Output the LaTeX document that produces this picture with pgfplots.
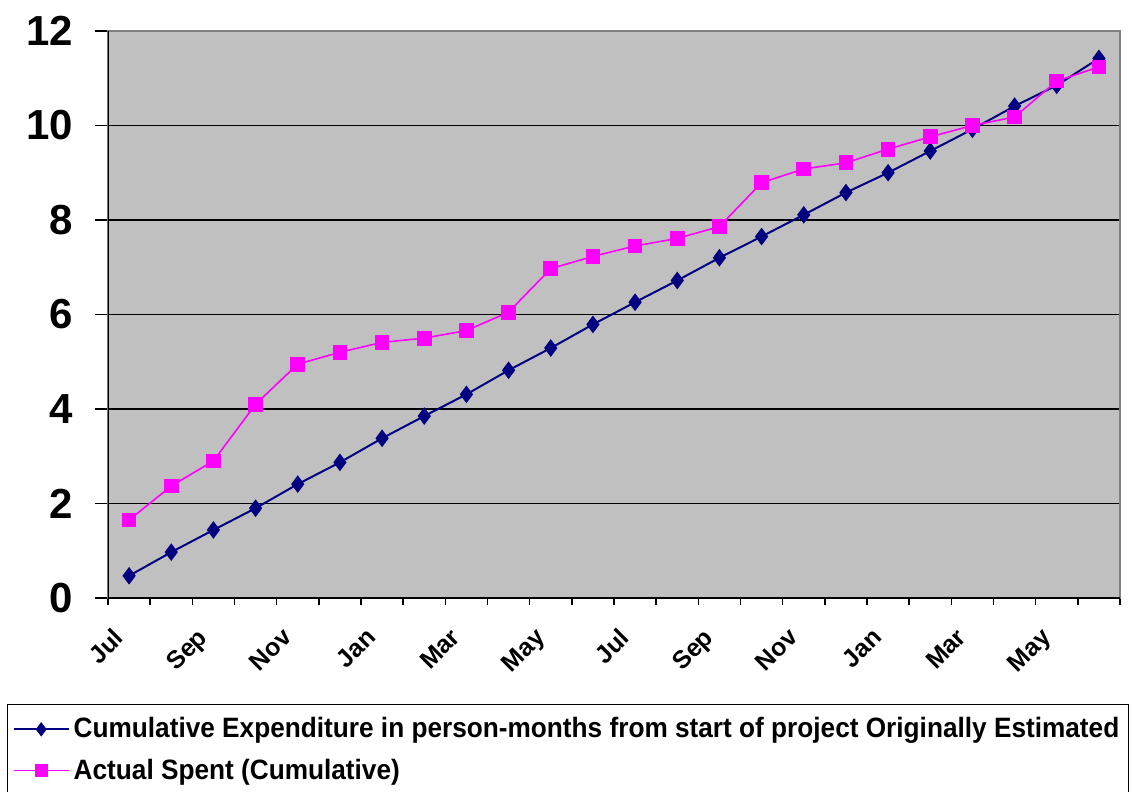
\documentclass[border=0pt]{standalone}
\usepackage{fontspec}
\setmainfont{Liberation Sans}
\newfontfamily\legfont[FakeStretch=0.936]{Liberation Sans}
\usepackage{pgfplots}
\pgfplotsset{compat=1.18}
\definecolor{plotbg}{RGB}{192,192,192}
\definecolor{navyc}{RGB}{0,0,128}
\definecolor{magc}{RGB}{255,0,255}
\definecolor{bordergray}{RGB}{128,128,128}
\begin{document}
\begin{tikzpicture}
\begin{axis}[
  scale only axis, width=506pt, height=283.5pt,
  at={(0,0)}, anchor=south west,
  xmin=0.5, xmax=24.5, ymin=0, ymax=12,
  axis background/.style={fill=plotbg},
  axis line style={draw=bordergray, line width=0.6pt},
  tick pos=left, tick align=outside,
  tick style={black, line width=0.7pt},
  major tick length=6.5pt, minor tick length=3.5pt,
  xtick={1,3,...,23},
  xticklabels={Jul,Sep,Nov,Jan,Mar,May,Jul,Sep,Nov,Jan,Mar,May},
  every major x tick/.append style={draw=none},
  minor xtick={0.5,1.5,...,24.5},
  xticklabel style={xshift=-8.5pt, yshift=-3pt, rotate=45, anchor=north east, font=\fontsize{12.5}{14}\selectfont\bfseries},
  ytick={0,2,...,12},
  yticklabel style={xshift=-7.5pt, font=\fontsize{21}{24}\selectfont\bfseries},
  /pgf/number format/assume math mode=true,
  ymajorgrids, major grid style={black, line width=0.75pt},
  legend style={at={(-0.0998,-0.1869)}, anchor=north west, draw=black, line width=0.7pt, fill=white,
    inner xsep=2.5pt, inner ysep=4.5pt, nodes={inner sep=2pt},
    font=\legfont\fontsize{14}{16}\selectfont\bfseries, legend cell align=left, row sep=5pt},
  legend image code/.code={\draw[mark size=2.8pt, mark repeat=2, mark phase=2] plot coordinates {(0pt,0pt) (13.75pt,0pt) (27.5pt,0pt)};},
]
\addplot[navyc, line width=1pt, mark=diamond*, mark size=3.6pt, mark options={solid, fill=navyc, draw=navyc}] coordinates {
(1,0.47)(2,0.97)(3,1.44)(4,1.90)(5,2.41)(6,2.87)(7,3.38)(8,3.85)(9,4.31)(10,4.82)(11,5.29)(12,5.79)
(13,6.26)(14,6.72)(15,7.20)(16,7.65)(17,8.11)(18,8.58)(19,9.00)(20,9.46)(21,9.92)(22,10.41)(23,10.85)(24,11.42)};
\addlegendentry{Cumulative Expenditure in person-months from start of project Originally Estimated}
\addplot[magc, line width=0.8pt, mark=square*, mark size=3.3pt, mark options={solid, fill=magc, draw=magc}] coordinates {
(1,1.65)(2,2.37)(3,2.90)(4,4.10)(5,4.95)(6,5.20)(7,5.41)(8,5.50)(9,5.66)(10,6.05)(11,6.97)(12,7.23)
(13,7.45)(14,7.61)(15,7.86)(16,8.79)(17,9.08)(18,9.21)(19,9.50)(20,9.76)(21,10.00)(22,10.18)(23,10.94)(24,11.24)};
\addlegendentry{Actual Spent (Cumulative)}
\draw[bordergray, line width=0.6pt] (rel axis cs:0,1) -- (rel axis cs:1,1);
\draw[black, line width=0.7pt] (rel axis cs:0,1) -- (rel axis cs:0,0) -- (rel axis cs:1,0);
\end{axis}
\pgfresetboundingbox
\useasboundingbox (-54pt,-96.5pt) rectangle (512.5pt,299pt);
\end{tikzpicture}
\end{document}
